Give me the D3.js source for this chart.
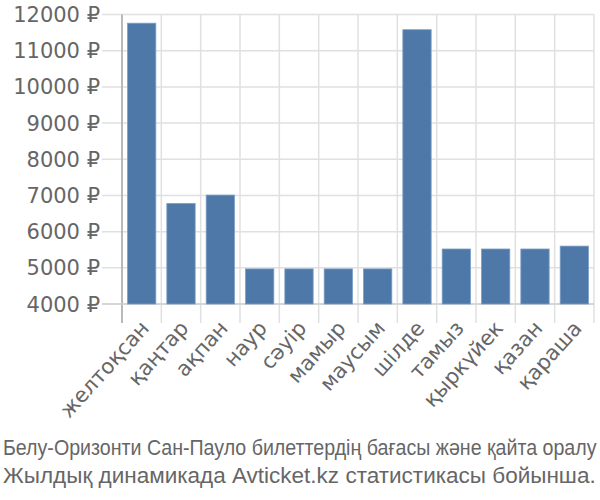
<!DOCTYPE html>
<html><head><meta charset="utf-8">
<script src="https://cdn.jsdelivr.net/npm/d3@7"></script>
<style>body{margin:0;background:#fff}svg{display:block}</style>
</head><body>
<svg id="c" width="600" height="500"></svg>
<script>
const months = ["желтоқсан","қаңтар","ақпан","наур","сәуір","мамыр","маусым","шілде","тамыз","қыркүйек","қазан","қараша"];
const prices = [11760,6780,7010,4970,4970,4970,4970,11580,5520,5520,5520,5600];
const yTicks = [4000,5000,6000,7000,8000,9000,10000,11000,12000];
const captionLines = ["Белу-Оризонти Сан-Пауло билеттердің бағасы және қайта оралу","Жылдық динамикада Avticket.kz статистикасы бойынша."];

const svg = d3.select("#c");
const L=122,R=594,T=14.5,B=304;
const x = d3.scaleBand().domain(months).range([L,R]).paddingInner(0.28).paddingOuter(0.14);
const y = d3.scaleLinear().domain([4000,12000]).range([B,T]);
const step = x.step();

svg.append("g").selectAll("line").data(yTicks).join("line")
  .attr("x1",L-20).attr("x2",R).attr("y1",d=>y(d)).attr("y2",d=>y(d))
  .attr("stroke","#e0e0e0").attr("stroke-width",1.5);
const vx = d3.range(months.length+1).map(i=>L+i*step);
svg.append("g").selectAll("line").data(vx).join("line")
  .attr("x1",d=>d).attr("x2",d=>d).attr("y1",T).attr("y2",B+19)
  .attr("stroke","#e0e0e0").attr("stroke-width",1.5);
svg.append("line").attr("x1",L).attr("x2",L).attr("y1",T).attr("y2",B+19).attr("stroke","#aaa").attr("stroke-width",1.5);
svg.append("line").attr("x1",L-20).attr("x2",R).attr("y1",B).attr("y2",B).attr("stroke","#d0d0d0").attr("stroke-width",1.5);

svg.append("g").selectAll("rect").data(prices).join("rect")
  .attr("x",(d,i)=>x(months[i])).attr("width",x.bandwidth())
  .attr("y",d=>y(d)).attr("height",d=>B-y(d))
  .attr("fill","#4d78a8").attr("stroke","#7d9fc6").attr("stroke-width",0.8);

svg.append("g").selectAll("text").data(yTicks).join("text")
  .attr("x",100).attr("y",d=>y(d)).attr("dy","0.36em").attr("text-anchor","end")
  .attr("font-family","DejaVu Sans, sans-serif").attr("font-size",21).attr("fill","#666")
  .text(d=>d+" ₽");

svg.append("g").selectAll("text").data(months).join("text")
  .attr("transform",d=>`translate(${x(d)+x.bandwidth()/2+3},${B+20}) rotate(-48)`)
  .attr("text-anchor","end").attr("dy","0.36em")
  .attr("font-family","DejaVu Sans, sans-serif").attr("font-size",21).attr("fill","#666")
  .text(d=>d);

const targets = [594, 593];
svg.append("g").selectAll("text").data(captionLines).join("text")
  .attr("x",0).attr("y",0)
  .attr("font-family","Liberation Sans, Arial, sans-serif").attr("font-size",22).attr("fill","#666")
  .text(d=>d)
  .each(function(d,i){
    const w = this.getComputedTextLength();
    d3.select(this).attr("transform",`translate(3,${455+i*28}) scale(${targets[i]/w},1)`);
  });
</script>
</body></html>
